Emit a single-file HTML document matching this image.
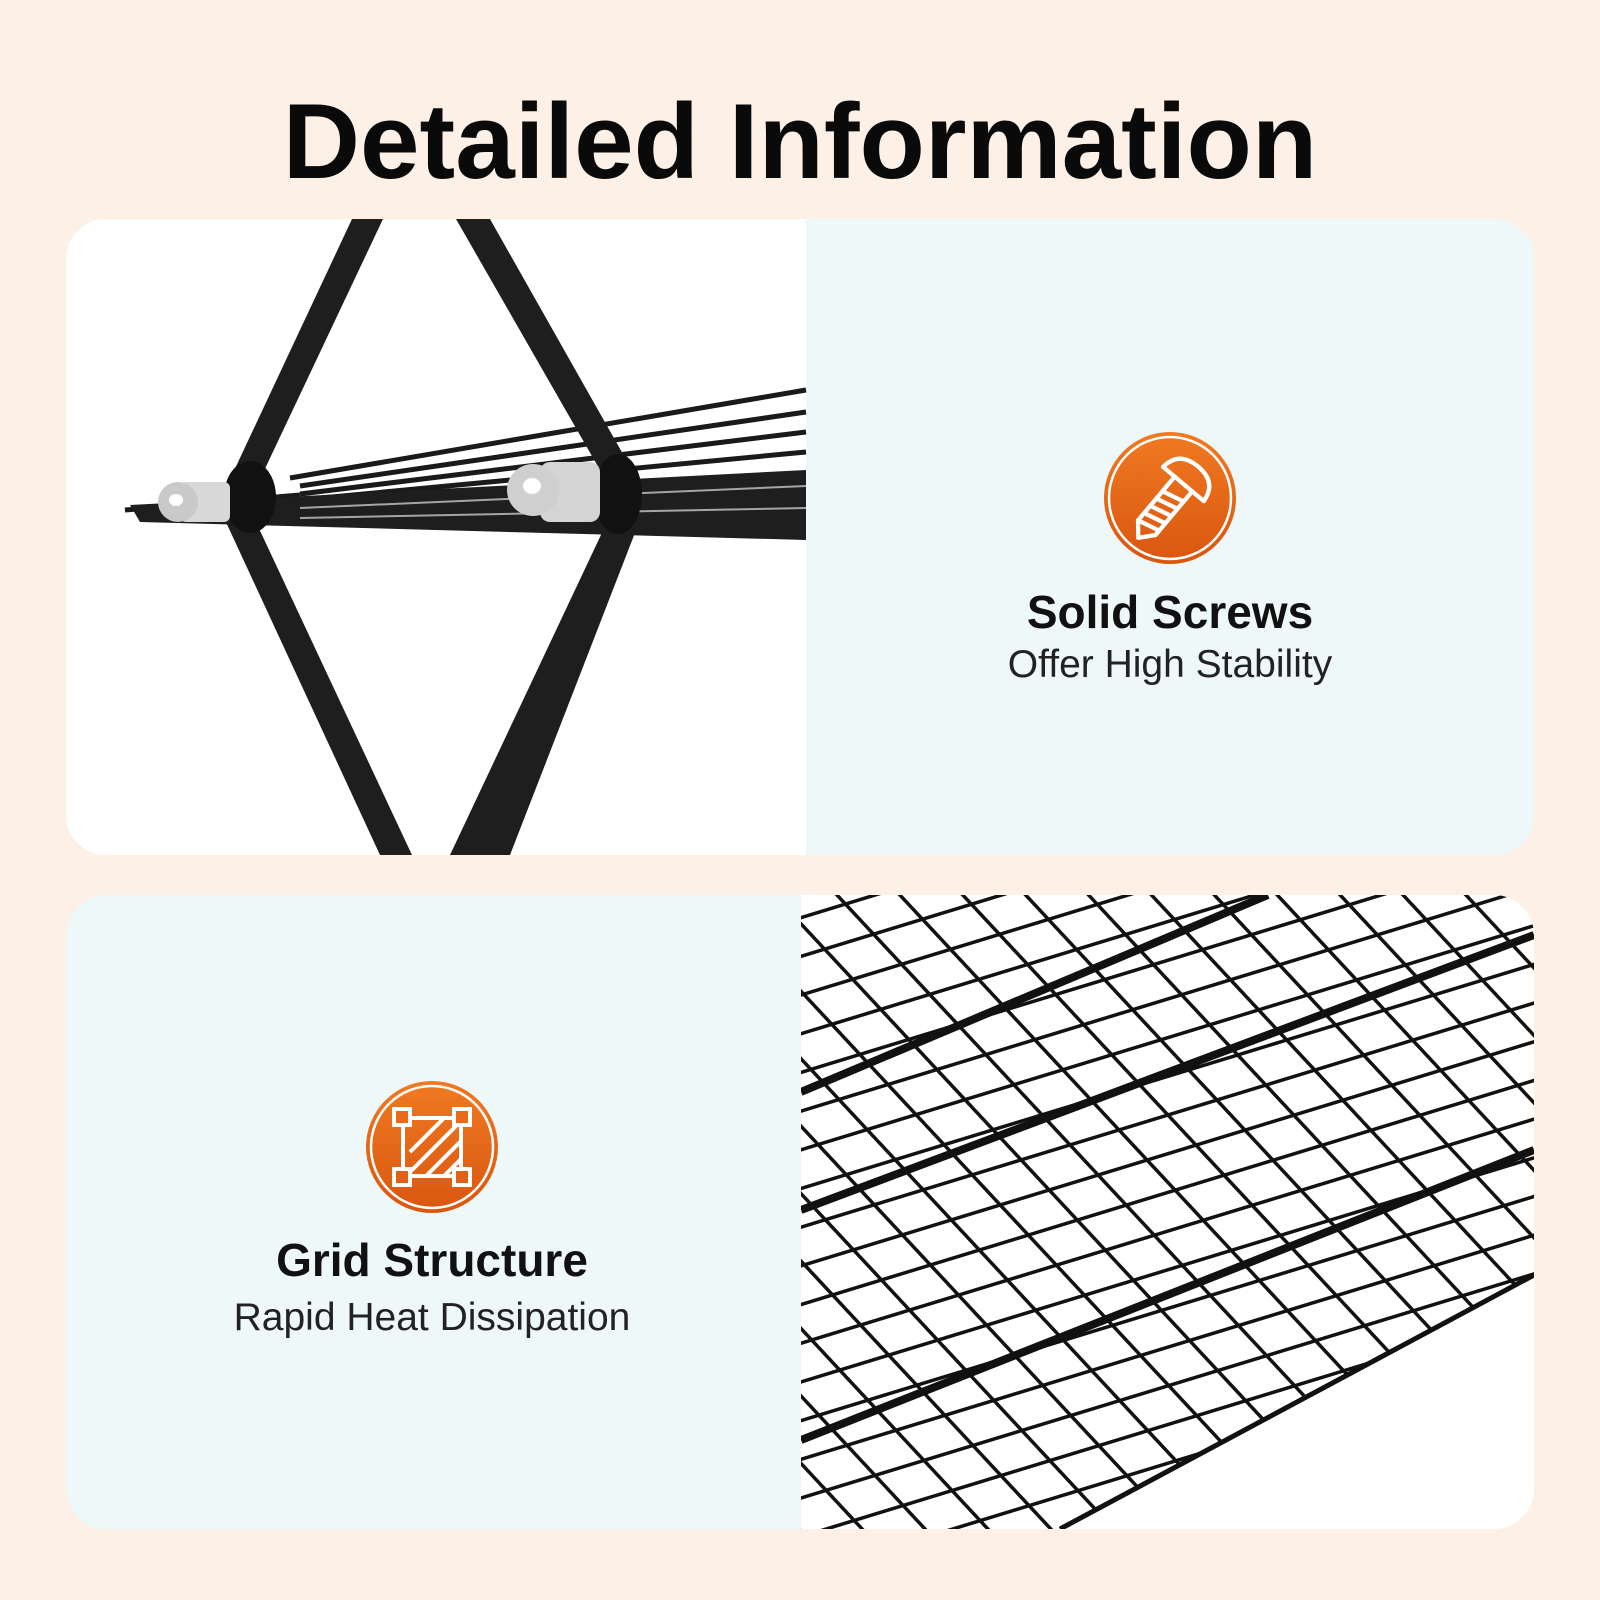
<!DOCTYPE html>
<html><head><meta charset="utf-8"><style>
html,body{margin:0;padding:0;width:1600px;height:1600px;background:#fdf0e6;overflow:hidden}
svg{display:block}
</style></head><body>
<svg width="1600" height="1600" viewBox="0 0 1600 1600" xmlns="http://www.w3.org/2000/svg">
<defs>
<clipPath id="c1"><rect x="66" y="219" width="1468" height="636" rx="40"/></clipPath>
<clipPath id="c2"><rect x="66" y="895" width="1468" height="634" rx="40"/></clipPath>
<clipPath id="p2"><polygon points="801,895 1534,895 1534,1275 1060,1529 801,1529"/></clipPath>
<pattern id="ga" width="200" height="37" patternUnits="userSpaceOnUse" patternTransform="rotate(-17)">
<rect x="0" y="0" width="200" height="3.5" fill="#111"/>
</pattern>
<pattern id="gb" width="46" height="200" patternUnits="userSpaceOnUse" patternTransform="rotate(-43)">
<rect x="0" y="0" width="3.5" height="200" fill="#111"/>
</pattern>
<linearGradient id="og" x1="0" y1="0" x2="0" y2="1"><stop offset="0" stop-color="#f07a22"/><stop offset="1" stop-color="#d9560f"/></linearGradient>
</defs>
<text x="800" y="178" text-anchor="middle" font-family="Liberation Sans, sans-serif" font-weight="bold" font-size="107" fill="#0a0a0a">Detailed Information</text>

<g clip-path="url(#c1)">
<rect x="66" y="219" width="1468" height="636" fill="#eef8f8"/>
<rect x="66" y="219" width="740" height="636" fill="#fff"/>
<!-- shelf -->
<g stroke="#1a1a1a" stroke-width="5" fill="none">
<line x1="290" y1="478" x2="806" y2="390"/>
<line x1="300" y1="486" x2="806" y2="412"/>
<line x1="300" y1="494" x2="806" y2="432"/>
<line x1="300" y1="500" x2="806" y2="452"/>
<line x1="125" y1="510" x2="300" y2="495"/>
</g>
<polygon points="130,505 806,470 806,540 140,522" fill="#1e1e1e"/>
<g stroke="#fff" stroke-width="2" opacity="0.6">
<line x1="300" y1="508" x2="806" y2="486"/>
<line x1="300" y1="518" x2="806" y2="508"/>
</g>
<!-- legs -->
<polygon points="352,219 383,219 262,475 232,475" fill="#1e1e1e"/>
<polygon points="225,520 255,520 412,855 380,855" fill="#1e1e1e"/>
<polygon points="456,219 490,219 632,470 600,470" fill="#1e1e1e"/>
<polygon points="608,520 640,520 510,855 450,855" fill="#1e1e1e"/>
<ellipse cx="250" cy="497" rx="26" ry="36" fill="#111"/>
<ellipse cx="618" cy="494" rx="24" ry="40" fill="#111"/>
<rect x="180" y="482" width="50" height="40" rx="6" fill="#d8d8d8"/>
<ellipse cx="178" cy="502" rx="20" ry="20" fill="#c9c9c9"/>
<ellipse cx="176" cy="500" rx="7" ry="6" fill="#fff"/>
<rect x="540" y="462" width="60" height="60" rx="10" fill="#d4d4d4"/>
<ellipse cx="533" cy="490" rx="26" ry="26" fill="#cfcfcf"/>
<ellipse cx="532" cy="486" rx="9" ry="8" fill="#fff"/>
<!-- icon -->
<circle cx="1170" cy="498" r="66" fill="url(#og)"/>
<circle cx="1170" cy="498" r="61" fill="none" stroke="#fff" stroke-width="2.5"/>
<g transform="translate(1170,500) rotate(40) scale(0.95)" stroke="#fff" stroke-width="4.5" fill="none" stroke-linejoin="round" stroke-linecap="round">
<path d="M-28,-22 Q-26,-46 0,-46 Q26,-46 28,-22 Z"/>
<path d="M-12,-22 V38 L0,52 L12,38 V-22"/>
<path d="M-12,-2 L12,-8 M-12,8 L12,2 M-12,18 L12,12 M-12,28 L12,22 M-12,38 L12,32"/>
</g>
<text x="1170" y="628" text-anchor="middle" font-family="Liberation Sans, sans-serif" font-weight="bold" font-size="46" fill="#111">Solid Screws</text>
<text x="1170" y="677" text-anchor="middle" font-family="Liberation Sans, sans-serif" font-size="39" fill="#222">Offer High Stability</text>
</g>

<g clip-path="url(#c2)">
<rect x="66" y="895" width="1468" height="634" fill="#eef8f8"/>
<rect x="801" y="895" width="733" height="634" fill="#fff"/>
<g clip-path="url(#p2)">
<rect x="801" y="895" width="733" height="634" fill="url(#ga)"/>
<rect x="801" y="895" width="733" height="634" fill="url(#gb)"/>
<g stroke="#111" stroke-width="8">
<line x1="801" y1="1092" x2="1268" y2="895"/>
<line x1="801" y1="1210" x2="1534" y2="935"/>
<line x1="801" y1="1440" x2="1534" y2="1150"/>
</g>
</g>
<line x1="1060" y1="1529" x2="1534" y2="1275" stroke="#111" stroke-width="5"/>
<circle cx="432" cy="1147" r="66" fill="url(#og)"/>
<circle cx="432" cy="1147" r="61" fill="none" stroke="#fff" stroke-width="2.5"/>
<g stroke="#fff" stroke-width="4" fill="none">
<rect x="403" y="1118" width="58" height="58"/>
<path d="M410 1152 l34 -34 M408 1174 l53 -53 M426 1176 l35 -35 M444 1176 l17 -17"/>
<rect x="394" y="1109" width="16" height="16" fill="#ea6a1a"/>
<rect x="454" y="1109" width="16" height="16" fill="#ea6a1a"/>
<rect x="394" y="1169" width="16" height="16" fill="#e0601a"/>
<rect x="454" y="1169" width="16" height="16" fill="#e0601a"/>
</g>
<text x="432" y="1276" text-anchor="middle" font-family="Liberation Sans, sans-serif" font-weight="bold" font-size="46" fill="#111">Grid Structure</text>
<text x="432" y="1330" text-anchor="middle" font-family="Liberation Sans, sans-serif" font-size="39" fill="#222">Rapid Heat Dissipation</text>
</g>
</svg>
</body></html>
